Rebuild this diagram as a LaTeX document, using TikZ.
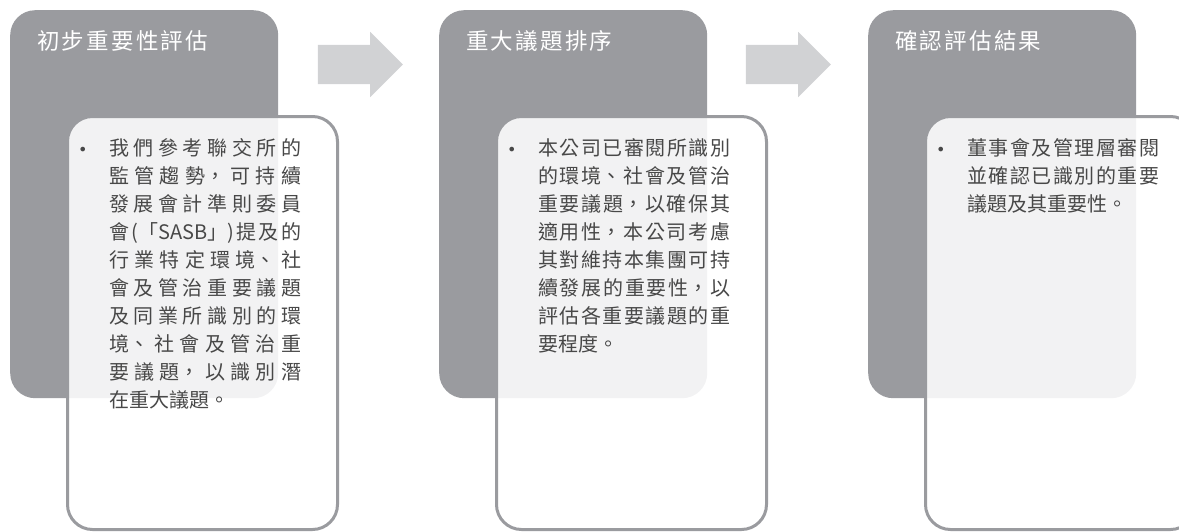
\documentclass[tikz,border=0pt]{standalone}
\usepackage{fontspec}
\setmainfont{Noto Sans CJK TC}
\newfontfamily\bulletfont{DejaVu Sans}
\newfontfamily\titlefont[LetterSpace=10]{Noto Sans CJK TC}
\usetikzlibrary{shapes.arrows}
\XeTeXlinebreaklocale "zh"
\XeTeXlinebreakskip=0pt plus 2pt
\definecolor{panelgrey}{HTML}{9A9B9F}
\definecolor{arrowgrey}{HTML}{D1D2D4}
\definecolor{textgrey}{HTML}{484848}
\tikzset{
	panel/.style={fill=panelgrey, rounded corners=25, minimum width=268, minimum height=388, inner sep=0},
	paneltitle/.style={text=white, inner sep=0, font=\titlefont\fontsize{22.5}{26}\selectfont},
	card/.style={fill=white, fill opacity=0.88, draw=panelgrey, line width=3, rounded corners=25, minimum width=270, minimum height=413, inner sep=0},
	cardbullet/.style={text=textgrey, inner sep=0, font=\bulletfont\fontsize{16}{28}\selectfont},
	cardtext/.style={text=textgrey, inner sep=0, text width=192, align=justify, font=\fontsize{20}{28}\selectfont},
	stagearrow/.style={single arrow, fill=arrowgrey, inner xsep=0, inner ysep=19.5, minimum height=85, single arrow head extend=13, single arrow tip angle=90}
}
\newcommand{\stage}[4] % name, left edge in px, title, text
{
	% grey panel
	\node[panel, anchor=north west] (#1) at (#2,10) {};
	\node[paneltitle, anchor=base west] (#1-title) at (#2+27,49) {#3};
	% white card
	\node[card, anchor=north west] (#1-card) at (#2+56,115) {};
	% bullet and text
	\node[cardbullet, anchor=base west] (#1-bullet) at (#2+68,155) {•};
	\node[cardtext, anchor=base west] (#1-text) at (#2+99,155) {#4};
}

\begin{document}
\begin{tikzpicture}[x=1pt, y=-1pt]
	% 1179 x 531 px
	\useasboundingbox (0,0) rectangle (1179,531);
	\stage{screening}{10}{初步重要性評估}{我們參考聯交所的\linebreak 監管趨勢，可持續\linebreak 發展會計準則委員\linebreak 會(「SASB」)提及的\linebreak 行業特定環境、社\linebreak 會及管治重要議題\linebreak 及同業所識別的環\linebreak 境、社會及管治重\linebreak 要議題，以識別潛\linebreak 在重大議題。};
	\stage{ranking}{439}{重大議題排序}{本公司已審閱所識別\linebreak 的環境、社會及管治\linebreak 重要議題，以確保其\linebreak 適用性，本公司考慮\linebreak 其對維持本集團可持\linebreak 續發展的重要性，以\linebreak 評估各重要議題的重\linebreak 要程度。};
	\stage{confirm}{868}{確認評估結果}{董事會及管理層審閱\linebreak 並確認已識別的重要\linebreak 議題及其重要性。};
	
	\node[stagearrow] (arrow1) at (350.5,64.5) {};
	\node[stagearrow] (arrow2) at (778.5,64.5) {};
\end{tikzpicture}
\end{document}
